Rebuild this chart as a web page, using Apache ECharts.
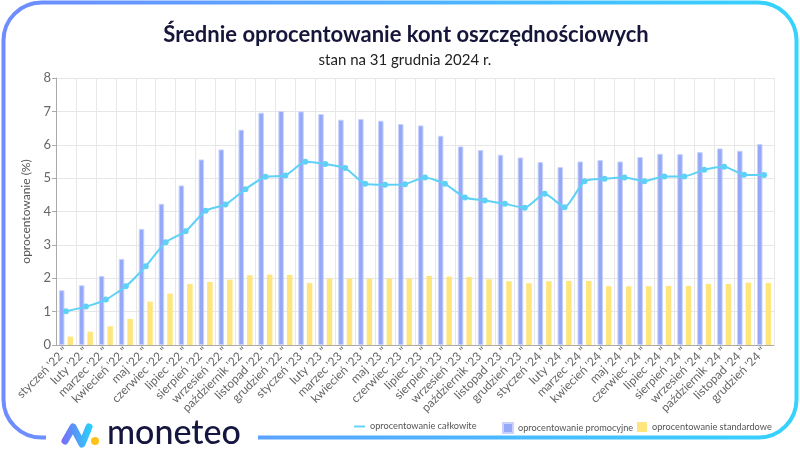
<!DOCTYPE html>
<html><head><meta charset="utf-8">
<script src="https://cdn.jsdelivr.net/npm/echarts@6/dist/echarts.min.js"></script>
<style>html,body{margin:0;padding:0;background:#fff}#c{width:800px;height:450px}</style>
</head><body><div id="c"></div>
<script>
const months = ['styczeń','luty','marzec','kwiecień','maj','czerwiec','lipiec','sierpień','wrzesień','październik','listopad','grudzień'];
const years = ['22','23','24'];
const categories = [];
years.forEach(y => months.forEach(m => categories.push(m + " '" + y + ' "')));

const promo = [1.64,1.79,2.07,2.58,3.48,4.23,4.78,5.56,5.86,6.45,6.96,7.01,
               7.00,6.92,6.75,6.77,6.72,6.62,6.58,6.27,5.95,5.84,5.70,5.62,
               5.48,5.33,5.50,5.54,5.50,5.63,5.73,5.72,5.78,5.89,5.82,6.02];
const standard = [0.25,0.40,0.56,0.78,1.30,1.54,1.83,1.89,1.96,2.09,2.11,2.10,
                  1.86,1.99,1.99,1.99,1.99,1.99,2.07,2.05,2.04,1.97,1.91,1.85,
                  1.91,1.92,1.92,1.76,1.76,1.76,1.77,1.77,1.83,1.83,1.87,1.86];
const total = [1.01,1.15,1.36,1.76,2.36,3.08,3.41,4.02,4.21,4.67,5.04,5.08,
               5.49,5.42,5.30,4.83,4.80,4.82,5.02,4.83,4.42,4.33,4.23,4.11,
               4.53,4.13,4.91,4.98,5.02,4.91,5.05,5.05,5.25,5.34,5.10,5.09];
const yTicks = [0,1,2,3,4,5,6,7,8];

const FONT = 'Lato';
const legendText = {fontFamily:FONT, fontSize:9.2, color:'#555'};
const chart = echarts.init(document.getElementById('c'), null, {renderer:'canvas'});
chart.setOption({
  animation:false,
  backgroundColor:'#fff',
  textStyle:{fontFamily:FONT},
  title:[
    {text:'Średnie oprocentowanie kont oszczędnościowych', left:401, top:19, textAlign:'center',
     textStyle:{fontFamily:FONT, fontWeight:'bold', fontSize:22, color:'#16163a'}},
    {text:'stan na 31 grudnia 2024 r.', left:400, top:48, textAlign:'center',
     textStyle:{fontFamily:FONT, fontWeight:'normal', fontSize:15, color:'#222'}}
  ],
  grid:{left:56, right:26, top:78, bottom:105, containLabel:false},
  legend:[
    {left:354, top:422, itemWidth:11, itemHeight:10, padding:0, textStyle:legendText,
     data:[{name:'oprocentowanie całkowite', icon:'path://M0,0 L12,0 L12,2 L0,2 Z', itemStyle:{color:'#5dd2f6'}}]},
    {left:502, top:422, itemWidth:10, itemHeight:10, padding:0, textStyle:legendText,
     data:[{name:'oprocentowanie promocyjne', icon:'rect'}]},
    {left:637, top:422, itemWidth:10, itemHeight:10, padding:0, textStyle:legendText,
     data:[{name:'oprocentowanie standardowe', icon:'rect'}]}
  ],
  xAxis:{
    type:'category', data:categories, boundaryGap:true,
    axisLine:{lineStyle:{color:'#aaa'}},
    axisTick:{show:false},
    splitLine:{show:true, lineStyle:{color:'#e8e8e8'}},
    axisLabel:{rotate:45, interval:0, fontSize:12, color:'#666', margin:4, fontFamily:FONT}
  },
  yAxis:{
    type:'value', min:0, max:8, interval:1,
    name:'oprocentowanie (%)', nameLocation:'middle', nameGap:21,
    nameTextStyle:{fontSize:12, color:'#555', fontFamily:FONT},
    axisLine:{show:true, lineStyle:{color:'#aaa'}},
    axisTick:{show:true, length:4, lineStyle:{color:'#aaa'}},
    splitLine:{lineStyle:{color:'#e6e6e6'}},
    axisLabel:{fontSize:13, color:'#666', margin:5, fontFamily:FONT,
      formatter:v => yTicks.includes(v) ? String(v) : ''}
  },
  series:[
    {name:'oprocentowanie promocyjne', type:'bar', data:promo, barWidth:5.5, barGap:'55%',
     itemStyle:{color:'#95a9f8', borderColor:'#c8d2fb', borderWidth:1}},
    {name:'oprocentowanie standardowe', type:'bar', data:standard, barWidth:5.5,
     itemStyle:{color:'#ffe67c'}},
    {name:'oprocentowanie całkowite', type:'line', data:total, smooth:0.2,
     symbol:'circle', symbolSize:6, z:5,
     lineStyle:{color:'#5dd2f6', width:2}, itemStyle:{color:'#5dd2f6'}}
  ],
  graphic:[
    {type:'rect', silent:true, z:-1,
     shape:{x:3.5, y:2.5, width:793, height:435, r:38},
     style:{fill:'none', lineWidth:4,
       stroke:new echarts.graphic.LinearGradient(0,0,1,0,[{offset:0,color:'#6f8cff'},{offset:1,color:'#35d3fd'}])}},
    {type:'rect', silent:true, z:0, shape:{x:46, y:429, width:212, height:16}, style:{fill:'#fff'}},
    {type:'polyline', silent:true, z:1,
     shape:{points:[[65,441],[73,427],[82,444],[89,427]]},
     style:{fill:'none', lineWidth:7, lineCap:'round', lineJoin:'round',
       stroke:new echarts.graphic.LinearGradient(0,0,1,0,[{offset:0,color:'#7a6cf7'},{offset:1,color:'#25d4fb'}])}},
    {type:'circle', silent:true, z:1, shape:{cx:95, cy:441, r:4}, style:{fill:'#ffc21a'}},
    {type:'text', silent:true, z:1, left:107, top:416,
     style:{text:'moneteo', font:'500 34px Lato', fill:'#15163f'}}
  ]
});
</script></body></html>
